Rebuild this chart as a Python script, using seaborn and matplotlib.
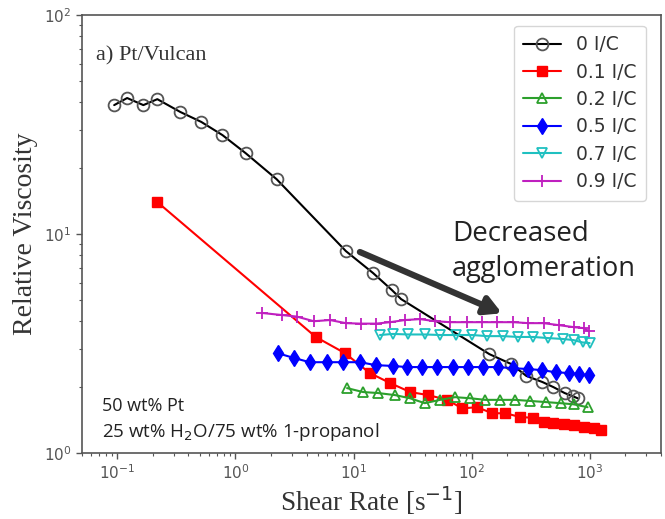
import numpy as np
import pandas as pd
import matplotlib
matplotlib.use("Agg")
import matplotlib.pyplot as plt
import seaborn as sns

# 0 I/C
x_00 = [0.094, 0.121, 0.166, 0.218, 0.341, 0.514, 0.776, 1.22, 2.23, 8.6, 14.6, 21.1, 25.2,
        141, 216, 290, 397, 492, 611, 714, 787]
y_00 = [38.8, 41.8, 38.8, 41.3, 36.1, 32.5, 28.3, 23.4, 17.8, 8.36, 6.64, 5.55, 5.05,
        2.83, 2.55, 2.25, 2.11, 2.0, 1.88, 1.82, 1.78]
# 0.1 I/C
x_01 = [0.218, 4.78, 8.43, 13.7, 20.3, 30.1, 42.7, 62, 83, 111, 149, 193, 258, 327, 405,
        492, 598, 728, 885, 1076, 1234]
y_01 = [14.0, 3.39, 2.86, 2.32, 2.09, 1.90, 1.84, 1.75, 1.60, 1.62, 1.52, 1.52, 1.46, 1.45,
        1.39, 1.37, 1.36, 1.34, 1.31, 1.30, 1.27]
# 0.2 I/C
x_02 = [8.8, 12, 16.1, 22.4, 30, 40, 54, 72, 97, 130, 175, 234, 314, 421, 564, 727, 955]
y_02 = [1.98, 1.90, 1.88, 1.84, 1.78, 1.69, 1.75, 1.80, 1.78, 1.75, 1.75, 1.75, 1.73, 1.71,
        1.69, 1.67, 1.62]
# 0.5 I/C
x_05 = [2.27, 3.11, 4.25, 5.9, 8.1, 11.3, 15.5, 21.5, 28.3, 38, 51, 70, 93, 125, 168, 225,
        302, 397, 512, 661, 802, 975]
y_05 = [2.86, 2.72, 2.60, 2.60, 2.60, 2.60, 2.52, 2.50, 2.47, 2.47, 2.47, 2.47, 2.47, 2.47,
        2.47, 2.44, 2.42, 2.39, 2.34, 2.32, 2.30, 2.27]
# 0.7 I/C
x_07 = [16.7, 21.5, 28.9, 40.3, 54, 74, 101, 135, 185, 248, 333, 446, 587, 728, 867, 995]
y_07 = [3.46, 3.50, 3.48, 3.48, 3.46, 3.46, 3.46, 3.42, 3.42, 3.39, 3.39, 3.35, 3.32, 3.28,
        3.20, 3.18]
# 0.9 I/C
x_09 = [1.69, 2.46, 3.30, 4.6, 6.3, 8.6, 11.5, 15.5, 20.3, 27.2, 36.5, 49, 65.7, 91.6, 123,
        165, 225, 302, 405, 543, 728, 885, 977]
y_09 = [4.36, 4.27, 4.2, 4.0, 4.05, 3.92, 3.9, 3.9, 3.96, 4.05, 4.09, 4.0, 3.96, 3.96, 3.96,
        3.96, 3.96, 3.92, 3.92, 3.84, 3.76, 3.72, 3.61]

labels = ["0 I/C", "0.1 I/C", "0.2 I/C", "0.5 I/C", "0.7 I/C", "0.9 I/C"]
xs = [x_00, x_01, x_02, x_05, x_07, x_09]
ys = [y_00, y_01, y_02, y_05, y_07, y_09]

styles = [
    dict(color="black", marker="o", markersize=8.5, markerfacecolor="none", markeredgecolor="#555555", markeredgewidth=1.3),
    dict(color="red", marker="s", markersize=7, markerfacecolor="red", markeredgecolor="red", markeredgewidth=1),
    dict(color="#2ca02c", marker="^", markersize=7, markerfacecolor="none", markeredgecolor="#2ca02c", markeredgewidth=1.3),
    dict(color="blue", marker="d", markersize=8, markerfacecolor="blue", markeredgecolor="blue", markeredgewidth=1),
    dict(color="#1fc0c0", marker="v", markersize=7, markerfacecolor="none", markeredgecolor="#1fc0c0", markeredgewidth=1.3),
    dict(color="#bf1fbf", marker="+", markersize=9, markerfacecolor="none", markeredgecolor="#bf1fbf", markeredgewidth=1.3),
]

sns.set_style("white")

fig = plt.figure(figsize=(6.65, 5.19), dpi=100)
ax = fig.add_axes([0.123, 0.127, 0.871, 0.844])

for lab, x, y, st in zip(labels, xs, ys, styles):
    df = pd.DataFrame({"x": x, "y": y})
    sns.lineplot(data=df, x="x", y="y", ax=ax, sort=False, linewidth=1.5, label=lab, **st)

ax.set_xscale("log")
ax.set_yscale("log")
ax.set_xlim(0.05, 4000)
ax.set_ylim(1, 100)

for sp in ax.spines.values():
    sp.set_color("#555555")
    sp.set_linewidth(1.2)
ax.tick_params(which="both", direction="out", colors="#555555", labelsize=11)
ax.tick_params(which="major", length=4, width=1)
ax.tick_params(which="minor", length=2.5, width=0.8)
ax.tick_params(axis="x", which="both", bottom=True)
ax.tick_params(axis="y", which="both", left=True)

ax.set_xlabel("Shear Rate [s$^{-1}$]", family="Liberation Serif", fontsize=19.5, color="#333333", labelpad=2)
ax.set_ylabel("Relative Viscosity", family="Liberation Serif", fontsize=20, color="#333333", labelpad=4)

ax.text(0.066, 62, "a) Pt/Vulcan", family="Liberation Serif", fontsize=16, color="#333333")
ax.text(0.0742, 1.556, "50 wt% Pt", family="Open Sans", fontsize=13, color="#222222")
ax.text(0.0742, 1.19, "25 wt% H$_2$O/75 wt% 1-propanol", family="Open Sans", fontsize=13.5, color="#222222")

ax.annotate("", xy=(180, 4.35), xytext=(11.3, 8.28),
            arrowprops=dict(arrowstyle="-|>,head_length=1.0,head_width=0.55", color="#333333", lw=4.5,
                            shrinkA=0, shrinkB=0))
ax.text(68, 9.3, "Decreased", family="Open Sans", fontsize=20, color="#222222", ha="left", va="baseline")
ax.text(68, 6.43, "agglomeration", family="Open Sans", fontsize=19.5, color="#222222", ha="left", va="baseline")

leg = ax.legend(loc="upper right", fontsize=13.5, frameon=True, handlelength=2, borderpad=0.5,
                labelspacing=0.45, fancybox=True, bbox_to_anchor=(0.99, 0.997))
leg.get_frame().set_edgecolor("#cccccc")
for t in leg.get_texts():
    t.set_color("#333333")

fig.savefig("out.png", dpi=100)
